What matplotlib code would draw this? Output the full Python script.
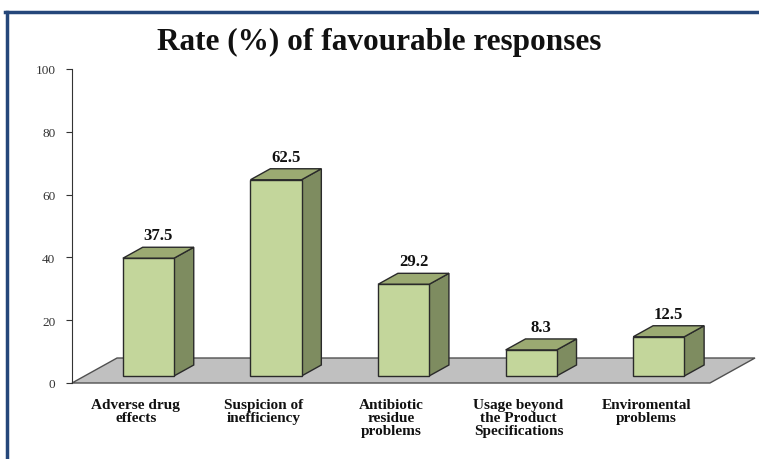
import matplotlib
matplotlib.use("Agg")
import matplotlib.pyplot as plt
from matplotlib.patches import Polygon
from matplotlib.lines import Line2D

# ── data ─────────────────────────────────────────────────────────────────────
categories = [
    "Adverse drug\neffects",
    "Suspicion of\ninefficiency",
    "Antibiotic\nresidue\nproblems",
    "Usage beyond\nthe Product\nSpecifications",
    "Enviromental\nproblems",
]
values = [37.5, 62.5, 29.2, 8.3, 12.5]
value_labels = ["37.5", "62.5", "29.2", "8.3", "12.5"]
yticks = [0, 20, 40, 60, 80, 100]

# ── look ─────────────────────────────────────────────────────────────────────
FRONT = "#C3D69B"
TOP = "#9BAA72"
SIDE = "#7E8C60"
EDGE = "#2A2A2A"
FLOOR = "#C0C0C0"
serif = ["Liberation Serif", "DejaVu Serif"]

# 3D-ish depth of the floor (data units) and where the bars sit on it
floor_dx, floor_dy = 0.353, 7.96
bar_w = 0.40
d0, d1 = 0.28, 0.72          # bar depth range as fraction of floor depth

fig = plt.figure(figsize=(7.59, 4.60), dpi=100)
ax = fig.add_axes([72 / 759, 76 / 460, 689 / 759, 314 / 460])
ax.set_xlim(0, 5.4)
ax.set_ylim(0, 100)

# floor
n = len(values)
floor = Polygon([(0, 0), (n, 0), (n + floor_dx, floor_dy), (floor_dx, floor_dy)],
                closed=True, facecolor=FLOOR, edgecolor="#505050", lw=1.0,
                zorder=1, clip_on=False)
ax.add_patch(floor)

# bars: front face via ax.bar, top + side faces from the same geometry
xs = [i + 0.5 - bar_w / 2 + d0 * floor_dx for i in range(n)]
base = d0 * floor_dy
ddx = (d1 - d0) * floor_dx
ddy = (d1 - d0) * floor_dy
ax.bar(xs, values, width=bar_w, bottom=base, align="edge",
       color=FRONT, edgecolor=EDGE, linewidth=1.0, zorder=3)
for x, v, lab in zip(xs, values, value_labels):
    top_y = base + v
    side = Polygon([(x + bar_w, base), (x + bar_w + ddx, base + ddy),
                    (x + bar_w + ddx, top_y + ddy), (x + bar_w, top_y)],
                   closed=True, facecolor=SIDE, edgecolor=EDGE, lw=1.0, zorder=2)
    top = Polygon([(x, top_y), (x + bar_w, top_y),
                   (x + bar_w + ddx, top_y + ddy), (x + ddx, top_y + ddy)],
                  closed=True, facecolor=TOP, edgecolor=EDGE, lw=1.0, zorder=2)
    ax.add_patch(side)
    ax.add_patch(top)
    ax.text(x + bar_w / 2 + ddx / 2, top_y + ddy + 1.3, lab,
            ha="center", va="bottom", fontsize=12, fontweight="bold",
            family=serif, color="#111111")

# category labels under each slot
for i, cat in enumerate(categories):
    ax.text(i + 0.5, -4.8, cat, ha="center", va="top", fontsize=11,
            fontweight="bold", family=serif, color="#111111",
            multialignment="center", linespacing=1.0)

# axis styling
for s in ["top", "right", "bottom"]:
    ax.spines[s].set_visible(False)
ax.spines["left"].set_bounds(0, 100)
ax.spines["left"].set_color("#333333")
ax.set_xticks([])
ax.set_yticks(yticks)
ax.tick_params(axis="y", direction="out", length=4, width=0.8,
               colors="#333333", labelsize=9.5, pad=8)
for t in ax.get_yticklabels():
    t.set_family(serif)
ax.patch.set_alpha(0)

# title
fig.text(0.5, 1 - 42 / 460, "Rate (%) of favourable responses", ha="center",
         va="center", fontsize=22.5, fontweight="bold", family=serif,
         color="#111111")

# blue frame (top and left)
blue = "#25477A"
fig.add_artist(Line2D([5 / 759, 1], [1 - 13 / 460, 1 - 13 / 460],
                      transform=fig.transFigure, color=blue, lw=2.5))
fig.add_artist(Line2D([7 / 759, 7 / 759], [0, 1 - 13 / 460],
                      transform=fig.transFigure, color=blue, lw=2.5))

fig.savefig("out.png", dpi=100)
